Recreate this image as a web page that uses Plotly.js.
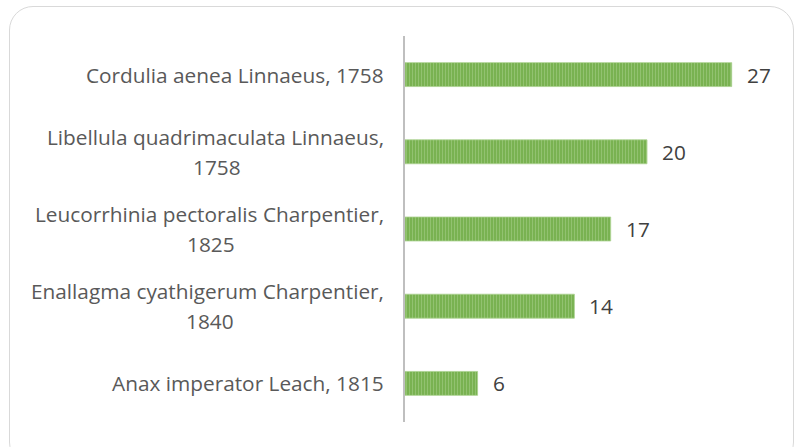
<!DOCTYPE html>
<html><head><meta charset="utf-8">
<script src="https://cdn.plot.ly/plotly-3.0.1.min.js"></script>
<style>
html,body{margin:0;padding:0;background:#fff;}
#wrap{position:relative;width:798px;height:447px;overflow:hidden;}
#chart{position:absolute;left:0;top:0;width:798px;height:447px;}
#frame{position:absolute;left:9px;top:6px;width:785px;height:460px;border:1.5px solid #d9d9d9;border-radius:24px;pointer-events:none;box-sizing:border-box;}
</style></head>
<body>
<div id="wrap"><div id="chart"></div><div id="frame"></div></div>
<script>
// Data
const categories = [
  "Cordulia aenea Linnaeus, 1758",
  "Libellula quadrimaculata Linnaeus,<br>1758",
  "Leucorrhinia pectoralis Charpentier,<br>1825",
  "Enallagma cyathigerum Charpentier,<br>1840",
  "Anax imperator Leach, 1815"
];
const values = [27, 20, 17, 14, 6];

const FONT = "'Open Sans', sans-serif";
const FS = 20.8;
const LABEL_COLOR = "#595959";
const VALUE_COLOR = "#404040";

function textWidth(t){
  const c = document.createElement('canvas').getContext('2d');
  c.font = FS + "px 'Open Sans'";
  return c.measureText(t).width;
}

const annotations = [];
categories.forEach((cat, i) => {
  const lines = cat.split('<br>');
  if (lines.length === 1) {
    annotations.push({xref:'paper', yref:'y', x:0, y:i, xanchor:'right', yanchor:'middle',
      xshift:-19, text:lines[0], showarrow:false, font:{family:FONT,size:FS,color:LABEL_COLOR}});
  } else {
    const w1 = textWidth(lines[0]);
    annotations.push({xref:'paper', yref:'y', x:0, y:i, xanchor:'right', yanchor:'middle',
      xshift:-19, yshift:15, text:lines[0], showarrow:false, font:{family:FONT,size:FS,color:LABEL_COLOR}});
    annotations.push({xref:'paper', yref:'y', x:0, y:i, xanchor:'center', yanchor:'middle',
      xshift:-19 - w1/2, yshift:-15, text:lines[1], showarrow:false, font:{family:FONT,size:FS,color:LABEL_COLOR}});
  }
  annotations.push({xref:'x', yref:'y', x:values[i], y:i, xanchor:'left', yanchor:'middle',
    xshift:13, text:String(values[i]), showarrow:false, font:{family:FONT,size:FS,color:VALUE_COLOR}});
});

const trace = {
  type:'bar', orientation:'h',
  x: values, y: categories.map((c,i)=>i),
  marker:{
    color:'#70AD47',
    pattern:{shape:'|', size:3, solidity:0.5, fgcolor:'#B3D89A', bgcolor:'#70AD47', fillmode:'overlay'},
    line:{color:'#A9D18E', width:0.8}
  },
  hoverinfo:'none'
};

const layout = {
  width:798, height:447,
  margin:{l:405, r:30, t:36, b:25},
  paper_bgcolor:'#ffffff', plot_bgcolor:'#ffffff',
  bargap:0.69,
  showlegend:false,
  xaxis:{range:[0,30], visible:false, fixedrange:true},
  yaxis:{range:[4.5,-0.5], showticklabels:false, ticks:'', showgrid:false, zeroline:false,
    showline:true, linecolor:'#bfbfbf', linewidth:2.5, fixedrange:true},
  annotations: annotations
};

Plotly.newPlot('chart', [trace], layout, {staticPlot:true, displayModeBar:false});
</script>
</body></html>
